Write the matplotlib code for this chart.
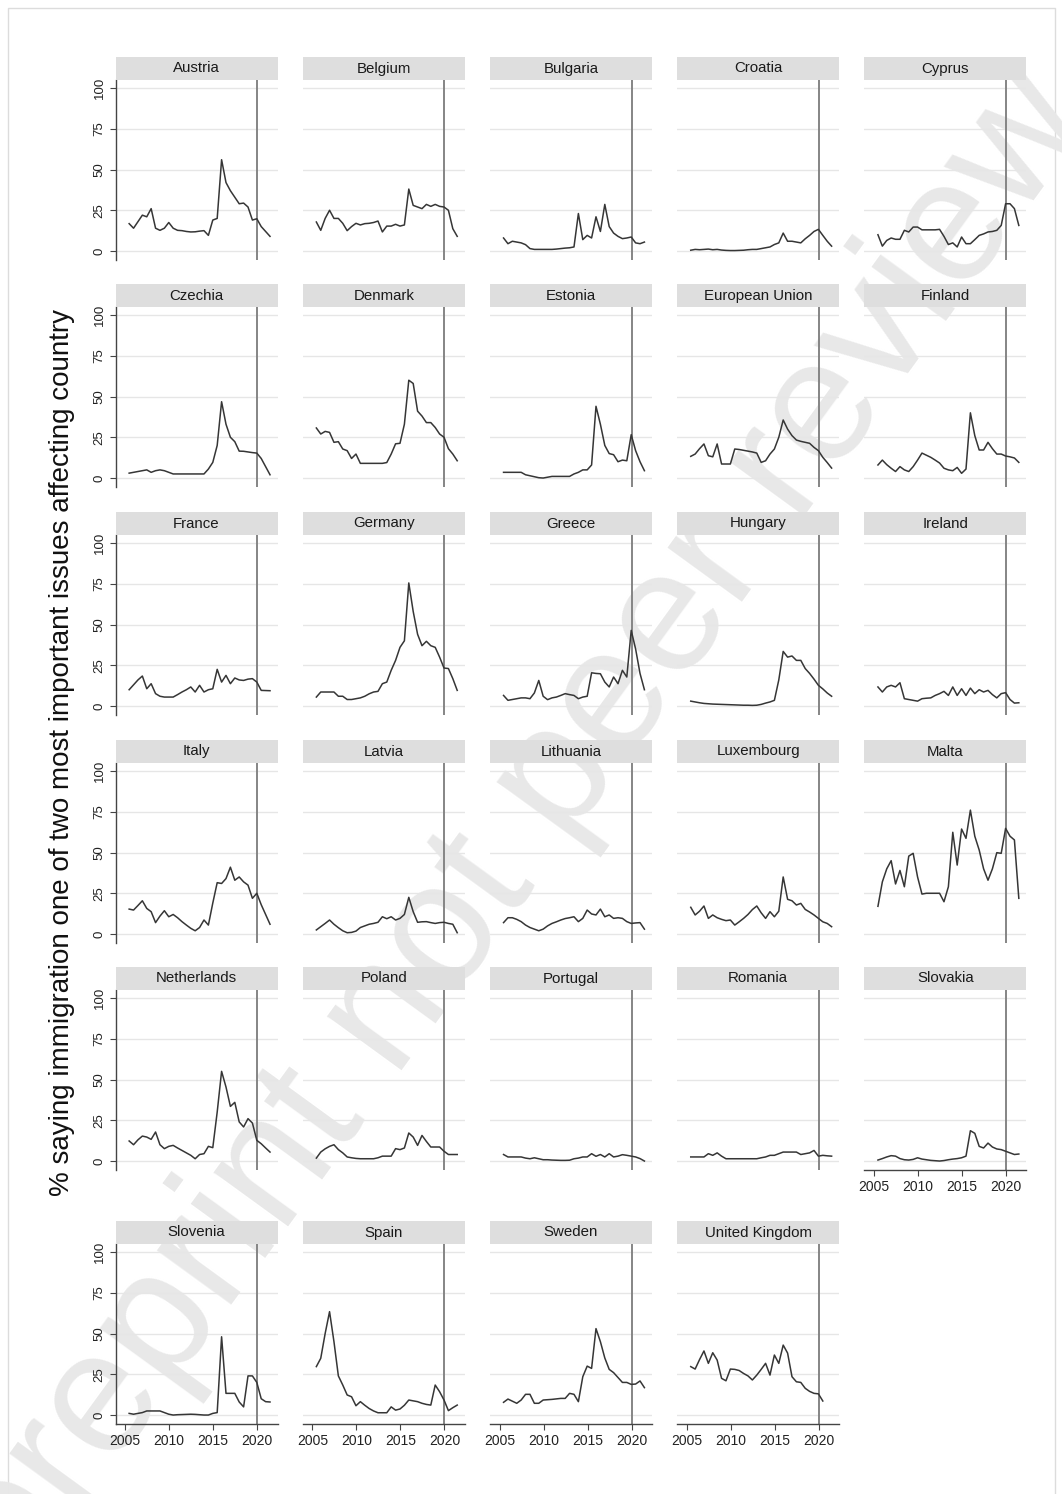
import numpy as np
import matplotlib
matplotlib.use("Agg")
import matplotlib.pyplot as plt
from matplotlib.patches import Rectangle

plt.rcParams["font.family"] = ["Liberation Sans", "DejaVu Sans"]

# Survey dates (spring / autumn Eurobarometer waves)
survey_dates = [2005.45, 2005.95, 2006.45, 2006.95, 2007.45, 2007.95, 2008.45, 2008.95,
                2009.45, 2009.95, 2010.45, 2010.95, 2011.45, 2011.95, 2012.45, 2012.95,
                2013.45, 2013.95, 2014.45, 2014.95, 2015.45, 2015.95, 2016.45, 2016.95,
                2017.45, 2017.95, 2018.45, 2018.95, 2019.45, 2019.95, 2020.45, 2020.95,
                2021.45]

# % saying immigration is one of the two most important issues
austria = [16.8, 14, 18, 22, 21, 26, 14, 12.7, 14, 17.5, 14, 12.7, 12.5, 12, 11.7, 11.8,
           12.2, 12.5, 9.6, 19, 20, 56, 42, 37, 33, 29, 29.4, 27, 19, 19.8, 15, 12, 9]
belgium = [17.8, 12.7, 20, 25, 20, 20, 17, 12.5, 15, 17, 16, 16.8, 17, 17.5, 18.4, 11.7,
           15.3, 15.3, 16.4, 15.3, 16, 38, 28, 27, 26, 28.6, 27.4, 28.6, 27.4, 27, 25, 13.7, 9]
bulgaria = [8, 4.5, 6, 5.5, 5, 3.9, 1.5, 1, 1, 1, 1, 1, 1.2, 1.5, 1.8, 2,
            2.5, 23, 7, 9.6, 8, 21, 12, 28.6, 15, 11, 9, 7.6, 8, 8.6, 5, 4.5, 5.5]
croatia = [0.5, 1, 0.8, 1, 1.2, 0.8, 1, 0.6, 0.4, 0.3, 0.3, 0.4, 0.5, 0.8, 1, 1,
           1.5, 2, 2.5, 4, 5, 11, 6, 6, 5.5, 5, 7.5, 9.6, 12, 13.3, 9.6, 6, 3]
cyprus = [10, 3, 6.5, 8, 7.2, 7.2, 12.7, 11.7, 14.7, 14.7, 13, 13, 13, 13, 13.3, 9,
          4, 5, 2.5, 8.6, 4.5, 4.5, 7, 9.6, 10.5, 11.7, 12, 12.7, 15.7, 29, 29, 26, 15.7]
czechia = [3, 3.5, 4, 4.5, 5, 3.5, 4.5, 5, 4.5, 3.5, 2.5, 2.5, 2.5, 2.5, 2.5, 2.5,
           2.5, 2.5, 5.5, 9.6, 20, 46.8, 33, 25, 22.3, 16.5, 16.4, 16, 15.6, 15.3, 12, 7, 2]
denmark = [30.7, 27, 28.6, 28, 21.9, 22.3, 17.8, 16.8, 12, 14.7, 9, 9, 9, 9, 9, 9,
           9.5, 14.7, 21, 21.3, 33, 60, 58, 41, 38, 34, 34, 31, 27, 25, 18, 14.7, 10.6]
estonia = [3.5, 3.5, 3.5, 3.5, 3.5, 2, 1.4, 0.8, 0.2, 0, 0.5, 1, 1, 1, 1, 1,
           2.5, 3.5, 5, 5, 8, 44, 33, 20, 15, 14.3, 10, 11, 10.6, 26.6, 16.8, 10, 4.5]
eu = [13.3, 14.7, 18, 20.9, 13.7, 13, 20.9, 8.6, 8.6, 8.6, 17.8, 17.5, 17, 16.5, 16, 15.3,
      9.6, 10.6, 14.7, 17.8, 25, 35.6, 30, 26, 23.3, 22.5, 21.9, 21.3, 18.8, 16.8, 12.7, 9.5, 6.1]
finland = [8, 11, 8.2, 6, 4, 7, 5, 4, 7, 11, 15.3, 14, 12.7, 11, 9.2, 6,
           5, 4.5, 6.5, 2.9, 5.5, 40, 26, 17.2, 17.2, 21.9, 18, 14.7, 14.7, 13.5, 13, 12.3, 9.6]
france = [10, 13, 16, 18.4, 10.6, 13.7, 7.6, 6, 5.5, 5.5, 5.5, 7, 8.6, 10, 11.7, 8.6,
          12.7, 8.6, 10, 10.6, 22.5, 14.7, 18.8, 13.7, 17.2, 16, 15.7, 16.5, 16.8, 14.7, 9.6, 9.5, 9.4]
germany = [5.5, 8.6, 8.6, 8.6, 8.6, 6, 6, 4, 4, 4.5, 5, 6, 7.5, 8.6, 9, 13.7,
           14.7, 21.9, 28, 36, 40, 75.5, 58, 44, 37, 39.7, 37, 36, 30, 23.3, 23, 16.8, 9.6]
greece = [6.5, 3.5, 4, 4.5, 5, 5, 4.5, 8, 15.7, 6, 3.9, 5, 5.5, 6.5, 7.6, 7,
          6.5, 4.5, 5.5, 6, 20.4, 20, 19.8, 14.7, 11.7, 17.8, 13.7, 21.9, 17.8, 46.4, 35, 20, 10]
hungary = [3, 2.5, 2, 1.6, 1.4, 1.2, 1.1, 1, 0.9, 0.8, 0.7, 0.6, 0.5, 0.5, 0.4, 0.5,
           1, 1.8, 2.5, 3.5, 16, 33.5, 30, 30.7, 28, 28, 23, 20, 16.5, 12.7, 10.5, 8, 6]
ireland = [11.7, 8.6, 11.7, 12.7, 11.7, 14.3, 4.5, 4, 3.5, 3, 4.5, 4.8, 5, 6.5, 7.6, 9,
           6.5, 11.7, 6.5, 10.6, 6.5, 11, 7.6, 10, 8.6, 9.6, 7, 5, 7.6, 8.2, 4, 1.8, 2]
italy = [15.3, 14.7, 17.5, 20.4, 15.7, 13.7, 7, 11, 14.3, 10.6, 12, 10, 7.6, 5.5, 3.5, 2,
         4, 8.6, 5.5, 19, 31.5, 31, 34, 41, 33, 35, 32, 30, 21.9, 25, 18, 12, 6]
latvia = [2.5, 4.5, 6.5, 8.6, 6, 3.9, 2, 0.8, 1, 1.8, 4, 5, 6, 6.5, 7.2, 10.6,
          9.4, 10.6, 8.6, 9.6, 12, 22.5, 13.7, 7.2, 7.5, 7.6, 7, 6.5, 7, 7.2, 6.5, 6, 0.8]
lithuania = [7, 10, 10, 9, 7.6, 5.5, 4, 3, 2, 3, 5, 6.5, 7.5, 8.6, 9.5, 10,
             10.6, 7.6, 9.6, 14.7, 12.3, 11.7, 15.3, 10.6, 11.7, 9.6, 10, 9.6, 7.6, 6.5, 6.8, 7, 3]
luxembourg = [16.4, 11.7, 14, 17.2, 9.6, 11.7, 10, 9, 8.2, 8.6, 5.5, 7.5, 9.6, 12, 15, 17.2,
              13, 9.6, 13.7, 10.6, 14, 35, 21.3, 20.4, 17.8, 18.8, 15.1, 13.5, 11.7, 9.6, 7.5, 6.5, 4.5]
malta = [17, 32, 40, 45, 30.7, 39, 29, 47.8, 49.5, 35, 24.5, 25, 25, 25, 25, 19.8,
         29, 62.4, 42.3, 64.4, 58.7, 76, 60, 51.5, 40, 33, 40, 49.9, 49.5, 64.8, 60, 57.7, 21.9]
netherlands = [12.3, 10, 13, 15.3, 14.7, 13.3, 17.8, 10, 7.6, 9, 9.6, 8, 6.5, 5, 3.5, 1.4,
               4, 4.5, 9, 8.2, 30, 55, 45.4, 33.5, 36, 24, 20.9, 26, 23.3, 12.7, 10.6, 8, 5.5]
poland = [1.8, 5.5, 7.5, 9, 10, 7, 5, 2.5, 2, 1.6, 1.4, 1.4, 1.4, 1.4, 2, 3,
          3, 3, 7.6, 7, 8, 17.2, 14.7, 9.6, 15.7, 12, 8.6, 8.6, 8.6, 6, 4, 4, 4]
portugal = [4, 2.5, 2.5, 2.5, 2.5, 1.8, 1.4, 2, 1.4, 0.8, 0.8, 0.6, 0.5, 0.4, 0.4, 0.5,
            1.4, 1.8, 2.5, 2.5, 4.5, 2.9, 4, 2.5, 4.5, 2.5, 3, 3.9, 3.5, 3, 2.5, 1.5, 0]
romania = [2.5, 2.5, 2.5, 2.5, 4.5, 3.5, 5, 3, 1.4, 1.4, 1.4, 1.4, 1.4, 1.4, 1.4, 1.4,
           2, 2.5, 3.5, 3.5, 4.5, 5.5, 5.5, 5.5, 5.5, 4, 4.5, 5, 6.5, 3, 3.5, 3.2, 3]
slovakia = [0.6, 1.5, 2.5, 3.3, 3, 1.5, 0.8, 0.6, 1, 2, 1.2, 0.8, 0.4, 0.2, 0, 0.3,
            0.8, 1.2, 1.5, 2, 3, 18.6, 17, 9, 8, 11, 8.6, 7.4, 7, 6, 5, 4, 4.3]
slovenia = [1, 0.5, 1, 1.5, 2.5, 2.5, 2.5, 2.5, 1.5, 0.5, 0, 0.2, 0.3, 0.4, 0.5, 0.4,
            0.2, 0, 0, 1, 1.5, 48, 13.3, 13.3, 13.3, 8, 5, 24, 24, 20, 10, 8.2, 8]
spain = [29.7, 34.8, 50, 63.4, 45, 24, 18.4, 12.3, 11.2, 5.7, 8.2, 6, 4, 2.5, 1.4, 1.4,
         1.4, 5, 3, 3.7, 6, 9.2, 8.7, 8.2, 7.2, 6.5, 6.1, 18.4, 14.3, 9.2, 2.7, 4.5, 6.1]
sweden = [7.8, 9.8, 8.5, 7.2, 9.2, 12.7, 12.7, 7.2, 7.2, 9.2, 9.4, 9.6, 9.9, 10.2, 10.2, 13.3,
          12.7, 8.2, 23.5, 30, 28.6, 53, 45, 35, 28, 26, 23, 20, 20, 18.8, 19, 20.9, 16.8]
uk = [29.7, 28.2, 34, 39.3, 31.7, 38.2, 33.7, 22.5, 21, 28.2, 28, 27.3, 25.5, 24, 21.5, 24.5,
      28, 31.7, 24.5, 36.8, 31.7, 42.9, 38, 23.5, 20.4, 20, 16.4, 14.5, 13.3, 13, 8.6]

panels = [
    ("Austria", austria), ("Belgium", belgium), ("Bulgaria", bulgaria), ("Croatia", croatia),
    ("Cyprus", cyprus), ("Czechia", czechia), ("Denmark", denmark), ("Estonia", estonia),
    ("European Union", eu), ("Finland", finland), ("France", france), ("Germany", germany),
    ("Greece", greece), ("Hungary", hungary), ("Ireland", ireland), ("Italy", italy),
    ("Latvia", latvia), ("Lithuania", lithuania), ("Luxembourg", luxembourg), ("Malta", malta),
    ("Netherlands", netherlands), ("Poland", poland), ("Portugal", portugal), ("Romania", romania),
    ("Slovakia", slovakia), ("Slovenia", slovenia), ("Spain", spain), ("Sweden", sweden),
    ("United Kingdom", uk),
]

y_ticks = [0, 25, 50, 75, 100]
x_ticks = [2005, 2010, 2015, 2020]

W, H = 1062, 1494
fig = plt.figure(figsize=(W / 100, H / 100), dpi=100)

col_left = [115.5, 302.7, 489.9, 677.1, 864.3]
panel_w = 162
row_zero = [251, 478, 706, 934, 1161, 1415]
strip_h = 23

for k, (name, vals) in enumerate(panels):
    r, c = divmod(k, 5)
    top = row_zero[r] - 171
    bottom = row_zero[r] + 9
    ax = fig.add_axes([col_left[c] / W, 1 - bottom / H, panel_w / W, (bottom - top) / H])
    ax.set_facecolor("none")
    ax.set_xlim(2003.9, 2022.3)
    ax.set_ylim(-5.5, 104.9)

    for yv in y_ticks:
        ax.axhline(yv, color="#e6e6e6", lw=1.0, zorder=1)
    ax.axvline(2020, color="#858585", lw=1.4, zorder=2)
    ax.plot(survey_dates[:len(vals)], vals, color="#363636", lw=1.1, zorder=3)

    for s in ax.spines.values():
        s.set_visible(False)

    show_y = c == 0
    show_x = r == 5 or (r == 4 and c == 4)

    ax.set_yticks(y_ticks)
    if show_y:
        ax.spines["left"].set_visible(True)
        ax.spines["left"].set_color("#444444")
        ax.spines["left"].set_linewidth(1.0)
        ax.tick_params(axis="y", length=4, width=0.8, color="#444444", pad=3,
                       labelsize=9.5, labelcolor="#222222")
        for lab in ax.get_yticklabels():
            lab.set_rotation(90)
            lab.set_va("center")
    else:
        ax.tick_params(axis="y", left=False, labelleft=False)

    ax.set_xticks(x_ticks)
    if show_x:
        ax.spines["bottom"].set_visible(True)
        ax.spines["bottom"].set_color("#444444")
        ax.spines["bottom"].set_linewidth(1.0)
        ax.tick_params(axis="x", length=4, width=0.8, color="#444444", pad=3,
                       labelsize=10, labelcolor="#222222")
    else:
        ax.tick_params(axis="x", bottom=False, labelbottom=False)

    sh = strip_h / (bottom - top)
    ax.add_patch(Rectangle((0, 1), 1, sh, transform=ax.transAxes, clip_on=False,
                           facecolor="#dedede", edgecolor="none", zorder=4))
    ax.text(0.5, 1 + sh / 2, name, transform=ax.transAxes, ha="center", va="center",
            fontsize=10.8, color="#1a1a1a", zorder=5)

fig.text(62 / W, 1 - 752 / H,
         "% saying immigration one of two most important issues affecting country",
         rotation=90, ha="center", va="center", fontsize=20, color="#111111")

# watermark
fig.text(520 / W, 1 - 830 / H, "preprint not peer review", rotation=54, rotation_mode="anchor",
         ha="center", va="center", fontsize=125, color="#e8e8e8", zorder=-10)

fig.patches.append(Rectangle((8 / W, -0.01), (1055 - 8) / W, 1 - 8 / H + 0.01,
                             transform=fig.transFigure, fill=False,
                             edgecolor="#dcdcdc", lw=1.0, zorder=-20))

fig.savefig("out.png", dpi=100)
